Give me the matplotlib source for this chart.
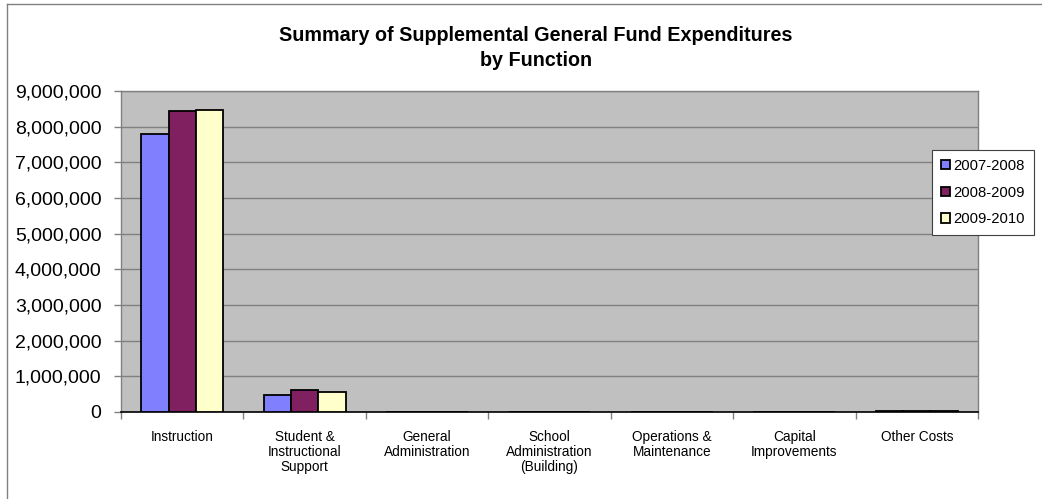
import matplotlib
matplotlib.use("Agg")
import matplotlib.pyplot as plt
from matplotlib.ticker import FuncFormatter, MultipleLocator
import numpy as np

categories = ["Instruction", "Student &\nInstructional\nSupport", "General\nAdministration",
              "School\nAdministration\n(Building)", "Operations &\nMaintenance",
              "Capital\nImprovements", "Other Costs"]
series_names = ["2007-2008", "2008-2009", "2009-2010"]
values_2007 = [7800000, 480000, 0, 0, 0, 0, 25000]
values_2008 = [8450000, 620000, 0, 0, 0, 0, 20000]
values_2009 = [8480000, 550000, 0, 0, 0, 0, 15000]
colors = ["#8080FF", "#802060", "#FFFFCC"]
title = "Summary of Supplemental General Fund Expenditures\nby Function"

plt.rcParams['font.family'] = ['Liberation Sans', 'DejaVu Sans']

fig = plt.figure(figsize=(10.42, 4.99), dpi=100)
W, H = 1042, 499
ax = fig.add_axes([121 / W, 1 - 412 / H, (978 - 121) / W, (412 - 91) / H])
ax.set_facecolor("#C0C0C0")

x = np.arange(len(categories))
bw = 0.223
for i, (vals, c, name) in enumerate(zip([values_2007, values_2008, values_2009], colors, series_names)):
    ax.bar(x + (i - 1) * bw, vals, width=bw, color=c, edgecolor="black", linewidth=1.3,
           label=name, zorder=3)

ax.set_xlim(-0.5, len(categories) - 0.5)
ax.set_ylim(0, 9000000)
ax.yaxis.set_major_locator(MultipleLocator(1000000))
ax.yaxis.set_major_formatter(FuncFormatter(lambda v, p: f"{int(v):,}"))
ax.grid(axis="y", color="#808080", linewidth=1.0, zorder=1)
ax.set_axisbelow(True)

ax.set_xticks(x)
ax.set_xticklabels(categories, fontsize=9.8, linespacing=1.1)
ax.tick_params(axis="x", length=0, pad=13)
ax.set_xticks(np.arange(len(categories) + 1) - 0.5, minor=True)
ax.tick_params(axis="x", which="minor", length=5, color="#808080", width=1)
ax.tick_params(axis="y", labelsize=14, length=5, color="#808080", width=1, pad=9)

for s in ["left", "right", "top"]:
    ax.spines[s].set_color("#808080")
    ax.spines[s].set_linewidth(1)
ax.spines["bottom"].set_color("black")
ax.spines["bottom"].set_linewidth(1.2)

fig.text(536 / W, 1 - 48 / H, title, ha="center", va="center", fontsize=14.2,
         fontweight="bold", linespacing=1.45)

leg = ax.legend(loc="upper left", bbox_to_anchor=(932 / W, 1 - 150 / H), bbox_transform=fig.transFigure,
                fontsize=10.7, frameon=True, fancybox=False, handlelength=0.6, handleheight=0.6,
                handletextpad=0.25, labelspacing=0.85, borderpad=0.6, borderaxespad=0)
leg.get_frame().set_edgecolor("#404040")
leg.get_frame().set_linewidth(0.8)
leg.get_frame().set_facecolor("white")
leg.get_frame().set_alpha(1)

# outer chart border (top and left visible)
fig.add_artist(plt.Line2D([7 / W, 1.0], [1 - 4 / H, 1 - 4 / H], transform=fig.transFigure,
                          color="#808080", linewidth=1))
fig.add_artist(plt.Line2D([7 / W, 7 / W], [0, 1 - 4 / H], transform=fig.transFigure,
                          color="#808080", linewidth=1))

fig.savefig("out.png", dpi=100)
